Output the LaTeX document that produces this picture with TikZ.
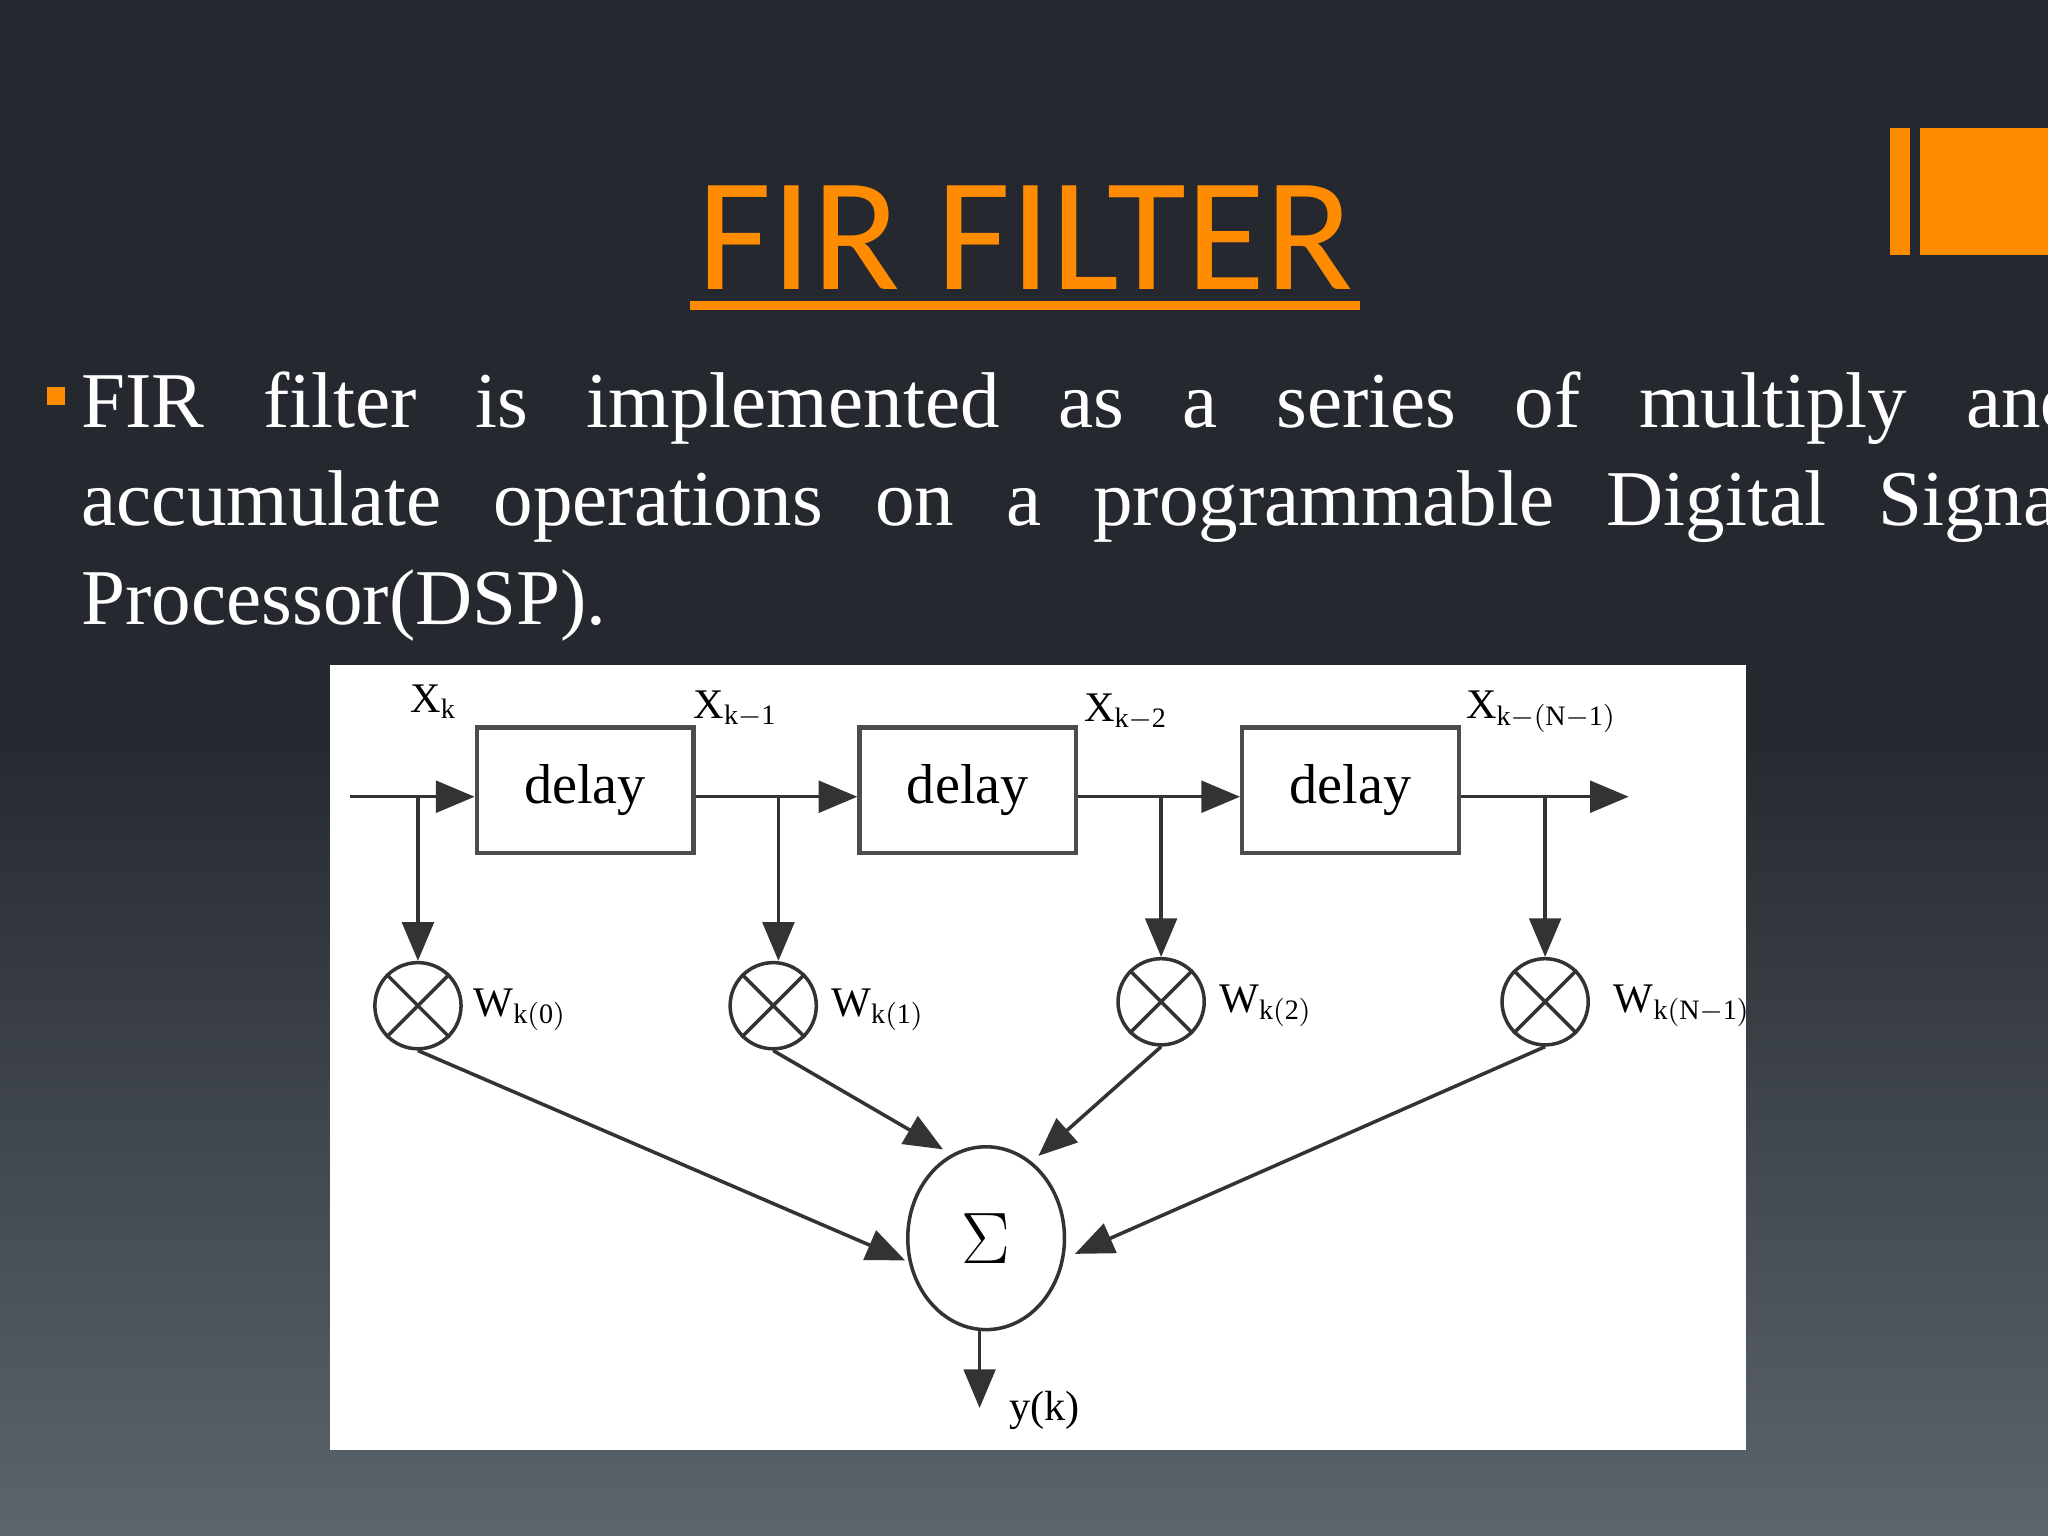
\documentclass[tikz,border=0pt]{standalone}
\usepackage{fontspec}
\setmainfont{Liberation Serif}
\newfontfamily\titlefont{Carlito}
\usetikzlibrary{arrows.meta,shapes.geometric}
\definecolor{org}{RGB}{255,140,0}
\definecolor{bgA}{RGB}{37,41,47}
\definecolor{bgC}{RGB}{92,100,108}
\begin{document}
\begin{tikzpicture}[x=0.013061cm,y=-0.013061cm,
  dbox/.style={draw=black!70,line width=1.2pt,minimum width=166*0.013061cm,minimum height=96*0.013061cm,font=\fontsize{16}{16}\selectfont,inner sep=0},
  mult/.style={draw=black!80,line width=1pt,circle,minimum size=66*0.013061cm,inner sep=0},
  ln/.style={black!80,line width=1pt},
  arr/.style={ln,-{Triangle[length=11pt,width=9pt]}},
  lab/.style={font=\fontsize{12}{12}\selectfont,inner sep=0}]
\useasboundingbox (0,0) rectangle (1568,1176);
\fill[bgA] (0,0) rectangle (1568,560);
\shade[top color=bgA,bottom color=bgC] (0,559) rectangle (1568,1176);
\fill[org] (1447,98) rectangle (1462,195);
\fill[org] (1470,98) rectangle (1568,195);
\node[text=org,font=\titlefont\fontsize{46}{46}\selectfont,anchor=base] (title) at (785,222) {FIR FILTER};
\draw[org,line width=2.5pt] (528,234) -- (1041,234);
\fill[org] (36,296) rectangle (50,310);
\node[text=white,anchor=north west,inner sep=0,font=\fontsize{22.5}{28}\selectfont,text width=1530*0.013061cm,align=justify] (body) at (62,284) {FIR filter is implemented as a series of multiply and\linebreak accumulate operations on a programmable Digital Signal\linebreak Processor(DSP).\par};
\fill[white] (253,509) rectangle (1337,1110);
\node[dbox] (d1) at (448,605) {delay};
\node[dbox] (d2) at (741,605) {delay};
\node[dbox] (d3) at (1034,605) {delay};
\coordinate (in) at (268,610);
\coordinate (t0) at (320,610);
\coordinate (t1) at (596,610);
\coordinate (t2) at (889,610);
\coordinate (t3) at (1183,610);
\coordinate (out) at (1247,610);
\draw[arr] (in) -- (d1.west|-in);
\draw[arr] (d1.east|-in) -- (d2.west|-in);
\draw[arr] (d2.east|-in) -- (d3.west|-in);
\draw[arr] (d3.east|-in) -- (out);
\node[mult] (m0) at (320,770) {};
\node[mult] (m1) at (592,770) {};
\node[mult] (m2) at (889,767) {};
\node[mult] (m3) at (1183,767) {};
\foreach \m in {m0,m1,m2,m3}{\draw[ln] (\m.north west)--(\m.south east) (\m.north east)--(\m.south west);}
\draw[arr] (t0) -- (m0.north);
\draw[arr] (t1) -- (m1.north-|t1);
\draw[arr] (t2) -- (m2.north);
\draw[arr] (t3) -- (m3.north);
\node[draw=black!80,line width=1pt,ellipse,minimum width=120*0.013061cm,minimum height=140*0.013061cm,inner sep=0,font=\fontsize{20}{20}\selectfont] (s) at (755,948) {$\Sigma$};
\draw[arr] (m0.south) -- (693,965);
\draw[arr] (m1.south) -- (722,880);
\draw[arr] (m2.south) -- (795,885);
\draw[arr] (m3.south) -- (823,960);
\coordinate (y) at (750,1078);
\draw[arr] (s.south-|y) -- (y);
\node[lab,anchor=west] (yl) at (772,1080) {y(k)};
\node[lab] (x0) at (332,537) {X$_{\mathrm{k}}$};
\node[lab] (x1) at (563,543) {X$_{\mathrm{k-1}}$};
\node[lab] (x2) at (862,545) {X$_{\mathrm{k-2}}$};
\node[lab] (x3) at (1180,545) {X$_{\mathrm{k-(N-1)}}$};
\node[lab,anchor=west] (w0) at (362,773) {W$_{\mathrm{k(0)}}$};
\node[lab,anchor=west] (w1) at (636,773) {W$_{\mathrm{k(1)}}$};
\node[lab,anchor=west] (w2) at (933,770) {W$_{\mathrm{k(2)}}$};
\node[lab,anchor=west] (w3) at (1235,770) {W$_{\mathrm{k(N-1)}}$};
\end{tikzpicture}
\end{document}
